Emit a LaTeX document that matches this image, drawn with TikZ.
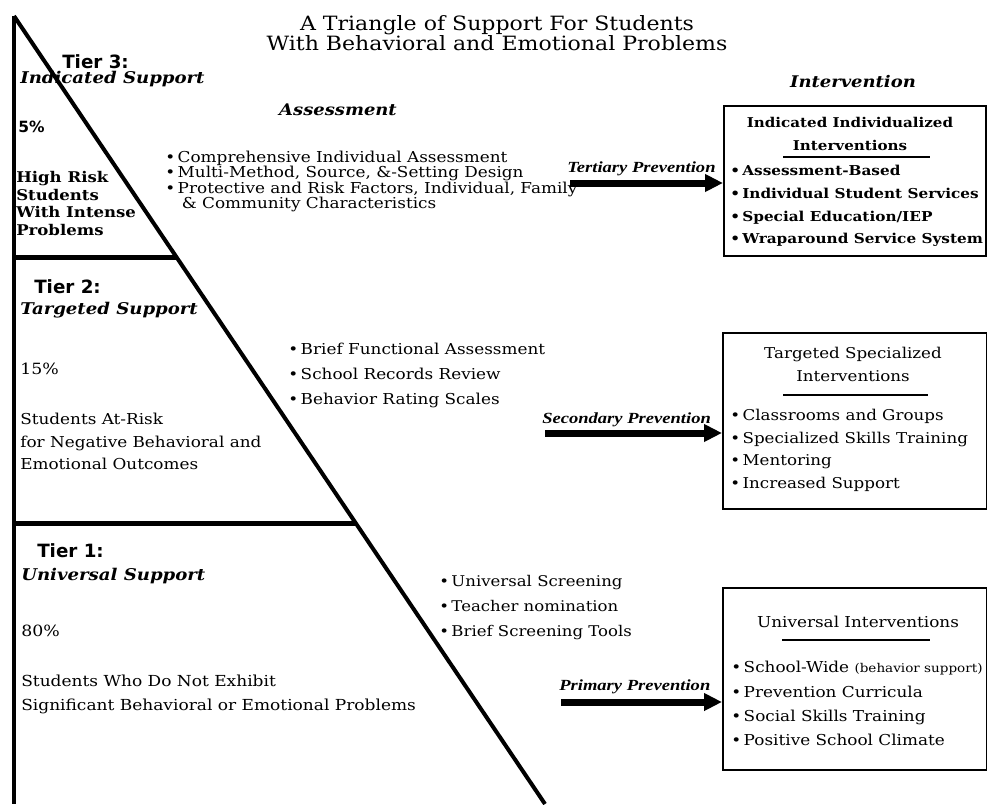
\documentclass[tikz,border=0pt]{standalone}
\usepackage{fontspec}
\setmainfont{DejaVu Serif}[FakeStretch=1.12]
\newfontfamily\tierfont{DejaVu Sans}
\newfontfamily\arrowfont{Liberation Serif}[FakeStretch=1.2]
\usetikzlibrary{arrows.meta, calc}
\tikzset{
  edge/.style={line width=1mm},
  tierline/.style={line width=1.25mm},
  title/.style={anchor=north, inner sep=0, align=center, font=\fontsize{14}{14.2}\selectfont},
  tiername/.style={anchor=base west, inner sep=0, font=\tierfont\bfseries\fontsize{13}{15}\selectfont},
  support/.style={anchor=base west, inner sep=0, font=\bfseries\itshape\fontsize{11.5}{13}\selectfont},
  heading/.style={anchor=base, inner sep=0, font=\bfseries\itshape\fontsize{11.4}{13}\selectfont},
  plain/.style={anchor=north west, inner sep=0, align=left},
  ibox/.style={draw, line width=0.5mm, anchor=north west, inner sep=0},
  boxtitle/.style={anchor=north, inner sep=0, align=center},
  rule/.style={line width=0.4mm},
  prevlabel/.style={anchor=base west, inner sep=0, font=\arrowfont\bfseries\itshape\fontsize{11}{13}\selectfont},
  prevarrow/.style={line width=1.75mm, -{Triangle[length=4.5mm, width=4.2mm]}},
}

\begin{document}
\begin{tikzpicture}[x=0.25mm, y=-0.25mm]
	\useasboundingbox (0,0) rectangle (987,804);

	% triangle
	\coordinate (apex) at (14,16);
	\coordinate (baseL) at (14,804);
	\coordinate (baseR) at (545,804);
	\coordinate (cut3) at ($(apex)!0.3071!(baseR)$);
	\coordinate (cut2) at ($(apex)!0.6434!(baseR)$);
	\draw[edge] (apex) -- (baseL);
	\draw[edge] (apex) -- (baseR);
	\draw[tierline] (cut3 -| baseL) -- (cut3);
	\draw[tierline] (cut2 -| baseL) -- (cut2);

	% title
	\node[title] (title) at (497,15) {A Triangle of Support For Students\\With Behavioral and Emotional Problems};

	% tier 3
	\node[tiername] (tier3) at (62,69) {Tier 3:};
	\node[support] (sup3) at (20,84) {Indicated Support};
	\node[anchor=base west, inner sep=0, font=\tierfont\bfseries\fontsize{11}{12}\selectfont] (pct3) at (18,133) {5\%};
	\node[plain, font=\bfseries\fontsize{10.5}{12.6}\selectfont] (who3) at (16,171) {High Risk\\Students\\With Intense\\Problems};
	\node[heading] (assess) at (338,116) {Assessment};
	\node[plain, font=\fontsize{10.7}{10.8}\selectfont] (list3) at (165,151) {\textbullet\,Comprehensive Individual Assessment\\\textbullet\,Multi-Method, Source, \&-Setting Design\\\textbullet\,Protective and Risk Factors, Individual, Family\\\hspace*{1.1em}\& Community Characteristics};

	% tier 2
	\node[tiername] (tier2) at (34,293) {Tier 2:};
	\node[support] (sup2) at (20,314) {Targeted Support};
	\node[anchor=base west, inner sep=0, font=\fontsize{11}{13}\selectfont] (pct2) at (20,374) {15\%};
	\node[plain, font=\fontsize{10.7}{16}\selectfont] (who2) at (20,413) {Students At-Risk\\for Negative Behavioral and\\Emotional Outcomes};
	\node[plain, font=\fontsize{10.7}{17.8}\selectfont] (list2) at (288,343) {\textbullet\,Brief Functional Assessment\\\textbullet\,School Records Review\\\textbullet\,Behavior Rating Scales};

	% tier 1
	\node[tiername] (tier1) at (37,557) {Tier 1:};
	\node[support] (sup1) at (21,580) {Universal Support};
	\node[anchor=base west, inner sep=0, font=\fontsize{11}{13}\selectfont] (pct1) at (21,636) {80\%};
	\node[plain, font=\fontsize{10.8}{17}\selectfont] (who1) at (21,675) {Students Who Do Not Exhibit\\Significant Behavioral or Emotional Problems};
	\node[plain, font=\fontsize{10.5}{17.8}\selectfont] (list1) at (439,575) {\textbullet\,Universal Screening\\\textbullet\,Teacher nomination\\\textbullet\,Brief Screening Tools};

	% interventions
	\node[heading] (interv) at (853,88) {Intervention};

	\node[ibox, minimum width=65.5mm, minimum height=37.5mm] (box3) at (723,105) {};
	\node[boxtitle, font=\bfseries\fontsize{9.6}{16.4}\selectfont] (ttl3) at (850,117) {Indicated Individualized\\Interventions};
	\draw[rule] (783,157) -- (930,157);
	\node[plain, font=\bfseries\fontsize{9.7}{16.2}\selectfont] (ivn3) at (730,165) {\textbullet\,Assessment-Based\\\textbullet\,Individual Student Services\\\textbullet\,Special Education/IEP\\\textbullet\,Wraparound Service System};

	\node[ibox, minimum width=66mm, minimum height=44mm] (box2) at (722,332) {};
	\node[boxtitle, font=\fontsize{10.6}{16.4}\selectfont] (ttl2) at (853,347) {Targeted Specialized\\Interventions};
	\draw[rule] (783,395) -- (928,395);
	\node[plain, font=\fontsize{10.6}{16.1}\selectfont] (ivn2) at (730,409) {\textbullet\,Classrooms and Groups\\\textbullet\,Specialized Skills Training\\\textbullet\,Mentoring\\\textbullet\,Increased Support};

	\node[ibox, minimum width=66mm, minimum height=45.5mm] (box1) at (722,587) {};
	\node[anchor=base, inner sep=0, font=\fontsize{10.7}{13}\selectfont] (ttl1) at (858,627) {Universal Interventions};
	\draw[rule] (782,640) -- (930,640);
	\node[plain, font=\fontsize{10.7}{17.3}\selectfont] (ivn1) at (731,661) {\textbullet\,School-Wide {\fontsize{8.6}{10}\selectfont(behavior support)}\\\textbullet\,Prevention Curricula\\\textbullet\,Social Skills Training\\\textbullet\,Positive School Climate};

	% prevention arrows
	\node[prevlabel] (prev3) at (567,172) {Tertiary Prevention};
	\coordinate (from3) at (570,183);
	\draw[prevarrow] (from3) -- (from3 -| box3.west);

	\node[prevlabel] (prev2) at (542,423) {Secondary Prevention};
	\coordinate (from2) at (545,433);
	\draw[prevarrow] (from2) -- (from2 -| box2.west);

	\node[prevlabel] (prev1) at (559,690) {Primary Prevention};
	\coordinate (from1) at (561,702);
	\draw[prevarrow] (from1) -- (from1 -| box1.west);
\end{tikzpicture}
\end{document}
